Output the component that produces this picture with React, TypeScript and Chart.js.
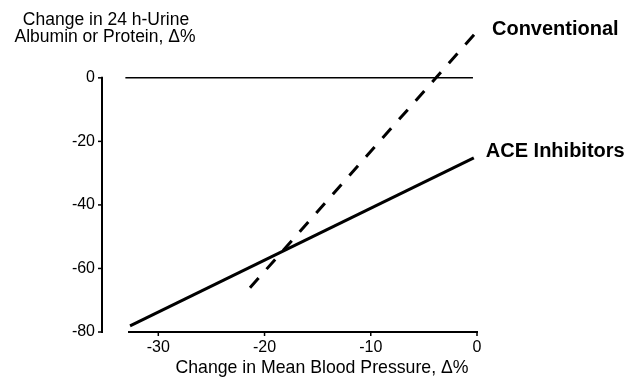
import React, { useEffect, useRef } from 'react';
import { Chart, registerables } from 'chart.js';
Chart.register(...registerables);

// ---- data ----
const xTicks = [-30, -20, -10, 0];
const yTicks = [-80, -60, -40, -20, 0];
const aceX = [-32.66, -0.3];
const aceY = [-78.1, -25.2];
const convX = [-21.37, -0.19];
const convY = [-66.1, 13.9];
const zeroX = [-33.1, -0.38];
const zeroY = [0, 0];
const xAxisExtent = [-32.85, 0];
const yAxisExtent = [-80, 0];
const xRange = [-35.3, 0];
const yRange = [-80, 16];
const seriesNames = ['Conventional', 'ACE Inhibitors'];
const yTitleLines = ['Change in 24 h-Urine', 'Albumin or Protein, \u0394%'];
const xTitle = 'Change in Mean Blood Pressure, \u0394%';

const FONT = '"Liberation Sans", Arial, Helvetica, sans-serif';

const pts = (xs: number[], ys: number[]) => xs.map((x, i) => ({ x, y: ys[i] }));

const decorPlugin = {
  id: 'decor',
  afterDraw(chart: any) {
    const { ctx, scales } = chart;
    const x = scales.x;
    const y = scales.y;
    const ax = chart.chartArea.left;
    const ay = y.getPixelForValue(yAxisExtent[0]);
    ctx.save();
    ctx.strokeStyle = '#000';
    ctx.lineWidth = 2;
    ctx.lineCap = 'butt';
    // y axis line
    ctx.beginPath();
    ctx.moveTo(ax, y.getPixelForValue(yAxisExtent[1]) - 1);
    ctx.lineTo(ax, ay + 1);
    ctx.stroke();
    // x axis line
    ctx.beginPath();
    ctx.moveTo(x.getPixelForValue(xAxisExtent[0]), ay);
    ctx.lineTo(x.getPixelForValue(xAxisExtent[1]) + 1, ay);
    ctx.stroke();
    // tick marks
    ctx.lineWidth = 1.5;
    for (const t of yTicks) {
      const py = y.getPixelForValue(t);
      ctx.beginPath();
      ctx.moveTo(ax - 4, py);
      ctx.lineTo(ax, py);
      ctx.stroke();
    }
    for (const t of xTicks) {
      const px = x.getPixelForValue(t);
      ctx.beginPath();
      ctx.moveTo(px, ay);
      ctx.lineTo(px, ay + 4);
      ctx.stroke();
    }
    // texts
    ctx.fillStyle = '#000';
    ctx.textAlign = 'center';
    ctx.textBaseline = 'middle';
    ctx.font = `17.5px ${FONT}`;
    ctx.fillText(yTitleLines[0], 106, 20);
    ctx.fillText(yTitleLines[1], 105, 37);
    ctx.font = `17.7px ${FONT}`;
    ctx.fillText(xTitle, 322, 368);
    ctx.textAlign = 'left';
    ctx.font = `bold 20px ${FONT}`;
    const cEndX = x.getPixelForValue(convX[1]);
    const cEndY = y.getPixelForValue(convY[1]);
    ctx.fillText(seriesNames[0], cEndX + 17, cEndY - 4);
    const aEndX = x.getPixelForValue(aceX[1]);
    const aEndY = y.getPixelForValue(aceY[1]);
    ctx.fillText(seriesNames[1], aEndX + 12, aEndY - 6);
    ctx.restore();
  },
};

export default function App() {
  const ref = useRef<HTMLCanvasElement | null>(null);
  useEffect(() => {
    if (!ref.current) return;
    const chart = new Chart(ref.current, {
      type: 'line',
      data: {
        datasets: [
          {
            label: 'zero',
            data: pts(zeroX, zeroY),
            borderColor: '#000',
            borderWidth: 1.5,
            pointRadius: 0,
            fill: false,
          },
          {
            label: seriesNames[1],
            data: pts(aceX, aceY),
            borderColor: '#000',
            borderWidth: 3,
            pointRadius: 0,
            fill: false,
          },
          {
            label: seriesNames[0],
            data: pts(convX, convY),
            borderColor: '#000',
            borderWidth: 3,
            borderDash: [13, 12],
            pointRadius: 0,
            fill: false,
          },
        ],
      },
      options: {
        animation: false,
        responsive: false,
        layout: { padding: { top: 27, right: 151, bottom: 0, left: 0 } },
        plugins: { legend: { display: false }, tooltip: { enabled: false }, title: { display: false } },
        scales: {
          x: {
            type: 'linear',
            min: xRange[0],
            max: xRange[1],
            grid: { display: false, drawTicks: false },
            border: { display: false },
            afterBuildTicks: (s: any) => {
              s.ticks = xTicks.map((v) => ({ value: v }));
            },
            afterFit: (s: any) => {
              s.height = 46;
            },
            ticks: {
              color: '#000',
              padding: 6,
              maxRotation: 0,
              font: { family: FONT, size: 16 },
            },
          },
          y: {
            type: 'linear',
            min: yRange[0],
            max: yRange[1],
            grid: { display: false, drawTicks: false },
            border: { display: false },
            afterBuildTicks: (s: any) => {
              s.ticks = yTicks.map((v) => ({ value: v }));
            },
            afterFit: (s: any) => {
              s.width = 102;
            },
            ticks: {
              color: '#000',
              padding: 7,
              font: { family: FONT, size: 16 },
            },
          },
        },
      },
      plugins: [decorPlugin],
    });
    return () => chart.destroy();
  }, []);
  return (
    <div style={{ position: 'absolute', left: 0, top: 0, width: 628, height: 378, background: '#fff' }}>
      <canvas ref={ref} width={628} height={378} style={{ display: 'block' }} />
    </div>
  );
}
